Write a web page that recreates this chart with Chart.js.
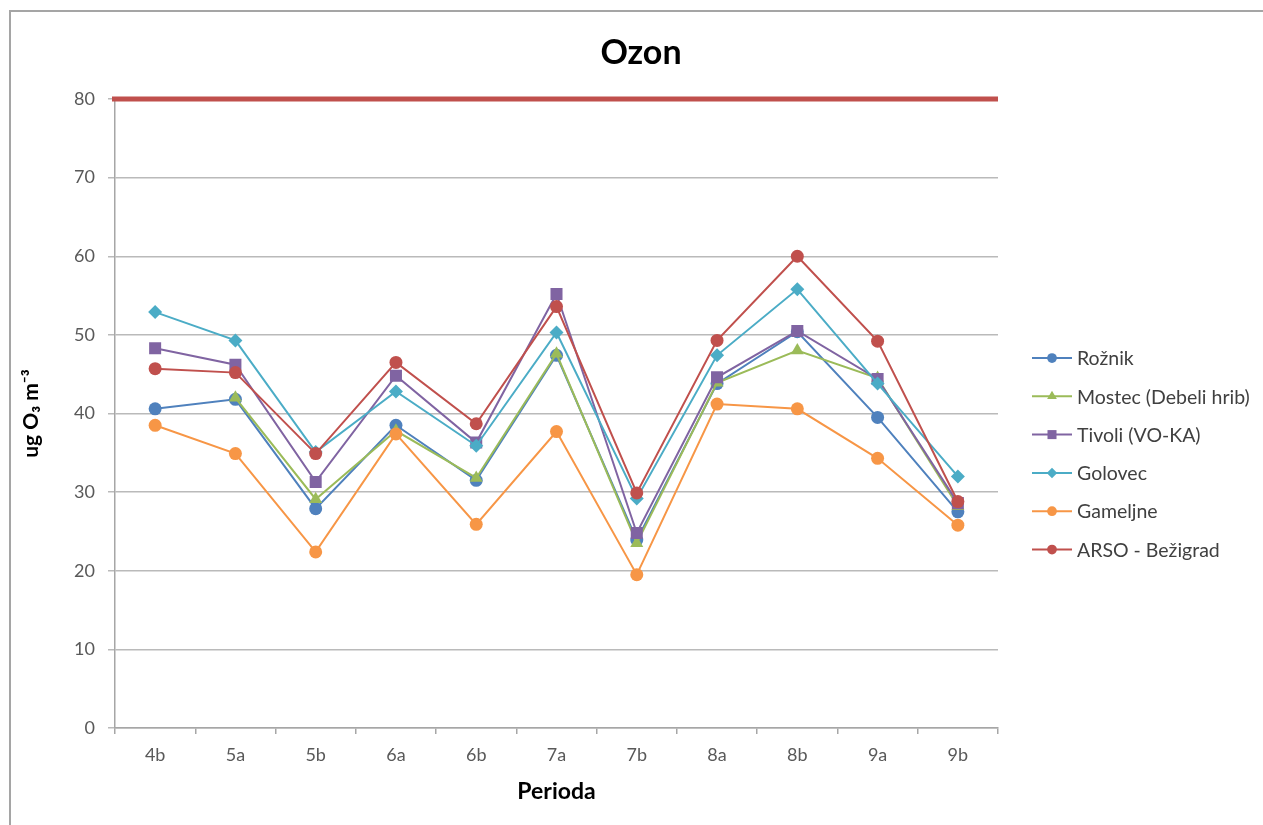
<!DOCTYPE html>
<html>
<head>
<meta charset="utf-8">
<title>Ozon</title>
<script src="https://cdn.jsdelivr.net/npm/chart.js@4.4.0/dist/chart.umd.min.js"></script>
<style>
  html, body { margin: 0; padding: 0; background: #fff; overflow: hidden; }
  #wrap { position: relative; width: 1263px; height: 825px; overflow: hidden; }
</style>
</head>
<body>
<div id="wrap">
  <canvas id="ozonChart" width="1263" height="825"></canvas>
</div>
<script>
const chartTitle = 'Ozon';
const periods = ['4b', '5a', '5b', '6a', '6b', '7a', '7b', '8a', '8b', '9a', '9b'];

const roznik   = [40.6, 41.8, 27.9, 38.5, 31.5, 47.4, 23.9, 43.8, 50.4, 39.5, 27.5];
const mostec   = [null, 42.0, 29.1, 37.8, 31.8, 47.6, 23.5, 43.9, 48.0, 44.5, 28.2];
const tivoli   = [48.3, 46.2, 31.3, 44.8, 36.3, 55.2, 24.8, 44.6, 50.5, 44.4, 28.6];
const golovec  = [52.9, 49.3, 35.1, 42.8, 35.9, 50.3, 29.2, 47.4, 55.8, 43.8, 32.0];
const gameljne = [38.5, 34.9, 22.4, 37.4, 25.9, 37.7, 19.5, 41.2, 40.6, 34.3, 25.8];
const arso     = [45.7, 45.2, 34.9, 46.5, 38.7, 53.6, 29.9, 49.3, 60.0, 49.2, 28.8];

const limitValue = 80;
const yMin = 0, yMax = 80, yStep = 10;

const FONT = 'Lato, "Open Sans", sans-serif';

const series = [
    { label: 'Rožnik',               data: roznik,   color: '#4F81BD', style: 'circle',   r: 6.5 },
    { label: 'Mostec (Debeli hrib)', data: mostec,   color: '#9BBB59', style: 'triangle', r: 7.5 },
    { label: 'Tivoli (VO-KA)',       data: tivoli,   color: '#8064A2', style: 'rect',     r: 8.5 },
    { label: 'Golovec',              data: golovec,  color: '#4BACC6', style: 'rectRot',  r: 7 },
    { label: 'Gameljne',             data: gameljne, color: '#F79646', style: 'circle',   r: 6.5 },
    { label: 'ARSO - Bežigrad',      data: arso,     color: '#C0504D', style: 'circle',   r: 6.5 }
];

function drawMarker(ctx, style, x, y, r, color) {
    ctx.fillStyle = color;
    ctx.beginPath();
    if (style === 'circle') {
        ctx.arc(x, y, r, 0, Math.PI * 2);
    } else if (style === 'triangle') {
        const dx = r * Math.sin(Math.PI / 3);
        ctx.moveTo(x, y - r);
        ctx.lineTo(x - dx, y + r / 2);
        ctx.lineTo(x + dx, y + r / 2);
        ctx.closePath();
    } else if (style === 'rect') {
        const s = r * Math.SQRT1_2;
        ctx.rect(x - s, y - s, 2 * s, 2 * s);
    } else {
        ctx.moveTo(x, y - r);
        ctx.lineTo(x + r, y);
        ctx.lineTo(x, y + r);
        ctx.lineTo(x - r, y);
        ctx.closePath();
    }
    ctx.fill();
}

const decorPlugin = {
    id: 'decor',
    afterDraw(chart) {
        const { ctx, chartArea, scales } = chart;
        ctx.save();

        // outer frame (only left and top edges are in view)
        ctx.strokeStyle = '#a5a5a5';
        ctx.lineWidth = 2;
        ctx.beginPath();
        ctx.moveTo(10, chart.height);
        ctx.lineTo(10, 11);
        ctx.lineTo(chart.width, 11);
        ctx.stroke();

        // limit line
        const yPos = scales.y.getPixelForValue(limitValue);
        ctx.strokeStyle = '#C0504D';
        ctx.lineWidth = 5;
        ctx.beginPath();
        ctx.moveTo(chartArea.left - 3, yPos);
        ctx.lineTo(chartArea.right, yPos);
        ctx.stroke();

        // title
        ctx.fillStyle = '#000';
        ctx.font = 'bold 34px ' + FONT;
        ctx.textAlign = 'center';
        ctx.textBaseline = 'middle';
        ctx.fillText(chartTitle, 641, 53);

        // legend
        ctx.textAlign = 'left';
        ctx.font = '19.5px ' + FONT;
        series.forEach((s, i) => {
            const ly = 358 + i * 38.3;
            ctx.strokeStyle = s.color;
            ctx.lineWidth = 2;
            ctx.beginPath();
            ctx.moveTo(1032, ly);
            ctx.lineTo(1072, ly);
            ctx.stroke();
            drawMarker(ctx, s.style, 1052, ly, s.r * 0.75, s.color);
            ctx.fillStyle = '#404040';
            ctx.fillText(s.label, 1077, ly + 1);
        });

        ctx.restore();
    }
};

new Chart(document.getElementById('ozonChart').getContext('2d'), {
    type: 'line',
    data: {
        labels: periods,
        datasets: series.map((s, i) => ({
            label: s.label,
            data: s.data,
            borderColor: s.color,
            backgroundColor: s.color,
            pointBackgroundColor: s.color,
            pointBorderColor: s.color,
            pointBorderWidth: 0,
            pointStyle: s.style,
            pointRadius: s.r,
            borderWidth: 2,
            tension: 0,
            fill: false,
            order: series.length - 1 - i
        }))
    },
    options: {
        responsive: false,
        animation: false,
        devicePixelRatio: 1,
        layout: {
            padding: { top: 99, right: 265, bottom: 0, left: 10 }
        },
        plugins: {
            legend: { display: false },
            title: { display: false },
            tooltip: { enabled: false }
        },
        scales: {
            x: {
                offset: true,
                grid: {
                    offset: true,
                    drawOnChartArea: false,
                    tickLength: 6,
                    color: '#a6a6a6',
                    lineWidth: 1.5
                },
                border: { color: '#a6a6a6', width: 1.5 },
                ticks: {
                    padding: 10,
                    color: '#595959',
                    font: { size: 18, family: FONT }
                },
                title: {
                    display: true,
                    text: 'Perioda',
                    color: '#000',
                    font: { size: 23, weight: 'bold', family: FONT },
                    padding: { bottom: 20 }
                },
                afterFit(scale) { scale.height = 97; }
            },
            y: {
                min: yMin,
                max: yMax,
                ticks: {
                    stepSize: yStep,
                    padding: 13,
                    color: '#595959',
                    font: { size: 18, family: FONT }
                },
                grid: {
                    color: '#bababa',
                    lineWidth: 1.5,
                    tickLength: 7
                },
                border: { display: true, color: '#a6a6a6', width: 1.5 },
                title: {
                    display: true,
                    text: 'ug O₃ m⁻³',
                    color: '#000',
                    font: { size: 21, weight: 'bold', family: FONT },
                    padding: { top: 9 }
                },
                afterFit(scale) { scale.width = 105; }
            }
        }
    },
    plugins: [decorPlugin]
});
</script>
</body>
</html>
